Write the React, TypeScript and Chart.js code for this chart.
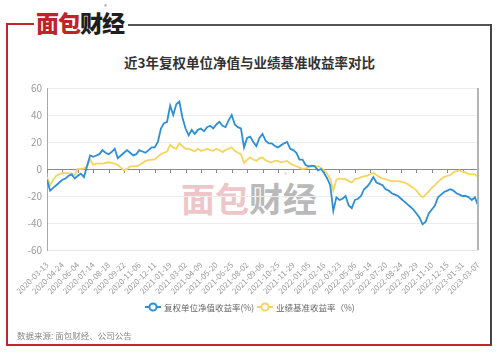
import React, { useEffect, useRef } from 'react';
import { Chart, registerables } from 'chart.js';

Chart.register(...registerables);

const tickLabels = [
  '2020-03-13', '2020-04-24', '2020-06-04', '2020-07-14', '2020-08-18', '2020-09-22',
  '2020-11-06', '2020-12-11', '2021-01-19', '2021-03-02', '2021-04-09', '2021-05-20',
  '2021-06-25', '2021-08-02', '2021-09-06', '2021-10-25', '2021-11-29', '2022-01-05',
  '2022-02-16', '2022-03-23', '2022-05-06', '2022-06-14', '2022-07-20', '2022-08-24',
  '2022-09-29', '2022-11-10', '2022-12-15', '2023-01-31', '2023-03-07',
];

const POINTS_PER_TICK = 5;

const navReturn = [
  -8, -16, -14, -12, -10, -8, -7, -5, -4, -7, -5, -3.5, -6, 2, 10, 9, 10, 11, 14, 12,
  11, 12.5, 15, 8, 10, 12, 14, 12, 10, 11, 14, 13, 12, 14, 16, 16, 20, 30, 34, 35,
  47, 40, 48, 50, 38, 30, 25, 29, 26, 29, 30, 28, 31, 32, 30, 33, 35, 32, 31, 36,
  40, 33, 31, 30, 16, 23, 24, 20, 17, 23, 26, 21, 19, 19, 17, 16, 17.5, 19, 20, 15,
  14, 12, 7, 7, 3, 2, 2.5, 2, -1, 0, -3, -7, -12, -31, -21, -23, -22, -20, -27, -29,
  -23, -22, -20, -15, -13, -10, -6, -10, -11, -12, -15, -16, -18, -19, -20, -22, -24, -26, -28, -30,
  -33, -36, -41, -39, -33, -30, -27, -21, -19, -17, -16, -15, -16, -18, -19, -20, -20, -21, -23, -21,
  -27,
];

const benchReturn = [
  -6, -12, -8, -5, -4, -3, -3, -3, -3.5, -4.5, 0, 0, 0.5, 2, 7, 3, 4, 4, 4, 4.5,
  5, 4.5, 4, 3, 1, -1, 0, 2, 2, 2, 3, 4.5, 6, 6.5, 7, 7, 9, 11, 12, 13,
  18, 16, 15, 19, 17, 15, 15, 14, 13, 15, 13.5, 14, 15, 14, 13.5, 15, 14, 12.5, 14, 15,
  16, 13.5, 12, 11, 4.5, 7, 8.5, 7, 6, 8, 8.5, 6.5, 5.5, 5, 6, 6, 5, 5.5, 6, 4,
  3, 2, 1, 0, 0.5, 1, 2, 2, 2, 1, -1, -3.5, -7.5, -16, -8, -7, -7.5, -7.5, -9, -10,
  -7.5, -7, -6, -5.5, -5, -4, -3, -4.5, -6, -7, -7.5, -8.5, -9, -9, -9, -9.5, -10, -11, -12.5, -14,
  -16, -19, -21, -19, -16.5, -14, -12, -9.5, -7.5, -6, -5, -4.5, -2.5, -1.5, -1, -2, -2.5, -4, -4, -4,
  -6,
];

const yTicks = [-60, -40, -20, 0, 20, 40, 60];

const seriesNames = ['复权单位净值收益率(%)', '业绩基准收益率（%)'];
const seriesColors = ['#2d8fd5', '#f6d55e'];

const FONT = '"Noto Sans CJK SC", "Noto Sans", sans-serif';

const zeroTicksPlugin = {
  id: 'zeroTicks',
  beforeDatasetsDraw(chart: any) {
    const { ctx, scales } = chart;
    const x = scales.x;
    const y = scales.y;
    const y0 = Math.round(y.getPixelForValue(0));
    ctx.save();
    ctx.strokeStyle = '#8a8a8a';
    ctx.lineWidth = 1;
    x.ticks.forEach((t: any) => {
      const px = Math.round(x.getPixelForValue(t.value)) + 0.5;
      ctx.beginPath();
      ctx.moveTo(px, y0);
      ctx.lineTo(px, y0 + 4);
      ctx.stroke();
    });
    ctx.restore();
  },
  afterDraw(chart: any) {
    const { ctx, chartArea } = chart;
    ctx.save();
    ctx.strokeStyle = '#b4b4b4';
    ctx.lineWidth = 2;
    ctx.beginPath();
    ctx.moveTo(chartArea.right, chartArea.top);
    ctx.lineTo(chartArea.right, chartArea.bottom);
    ctx.stroke();
    ctx.restore();
  },
};

function LegendMark({ color }: { color: string }) {
  return (
    <svg width={16} height={10} style={{ display: 'block' }}>
      <line x1={0} y1={5} x2={16} y2={5} stroke={color} strokeWidth={2} />
      <circle cx={8} cy={5} r={3.6} fill="#fff" stroke={color} strokeWidth={2} />
    </svg>
  );
}

export default function App() {
  const canvasRef = useRef<HTMLCanvasElement | null>(null);

  useEffect(() => {
    const canvas = canvasRef.current;
    if (!canvas) return;
    const labels = navReturn.map((_, i) => i);
    const maxIndex = (tickLabels.length - 1) * POINTS_PER_TICK;
    const chart = new Chart(canvas, {
      type: 'line',
      data: {
        labels,
        datasets: [
          {
            label: seriesNames[0],
            data: navReturn,
            borderColor: seriesColors[0],
            backgroundColor: seriesColors[0],
            borderWidth: 1.8,
            pointRadius: 0,
            tension: 0,
          },
          {
            label: seriesNames[1],
            data: benchReturn,
            borderColor: seriesColors[1],
            backgroundColor: seriesColors[1],
            borderWidth: 1.8,
            pointRadius: 0,
            tension: 0,
          },
        ],
      },
      options: {
        animation: false,
        responsive: false,
        devicePixelRatio: 1,
        layout: { padding: { top: 88, right: 21, left: 0, bottom: 0 } },
        plugins: {
          legend: { display: false },
          title: { display: false },
          tooltip: { enabled: false },
        },
        scales: {
          x: {
            type: 'linear',
            min: 0,
            max: maxIndex,
            grid: { display: false },
            border: { display: true, color: '#e6e6e6' },
            afterFit: (s: any) => {
              s.height = 103;
            },
            afterBuildTicks: (s: any) => {
              s.ticks = tickLabels.map((_, i) => ({ value: i * POINTS_PER_TICK }));
            },
            ticks: {
              autoSkip: false,
              minRotation: 45,
              maxRotation: 45,
              padding: 2,
              color: '#999',
              font: { size: 8, family: FONT },
              callback: (v: any) => tickLabels[Math.round(Number(v) / POINTS_PER_TICK)] ?? '',
            },
          },
          y: {
            min: yTicks[0],
            max: yTicks[yTicks.length - 1],
            afterFit: (s: any) => {
              s.width = 47;
            },
            afterBuildTicks: (s: any) => {
              s.ticks = yTicks.map((v) => ({ value: v }));
            },
            grid: {
              drawTicks: false,
              color: (ctx: any) => (ctx.tick && ctx.tick.value === 0 ? '#8a8a8a' : '#ececec'),
              lineWidth: 1,
            },
            border: { display: true, color: '#a8a8a8', width: 1 },
            ticks: {
              padding: 5,
              color: '#9a9a9a',
              font: { size: 10, family: FONT },
            },
          },
        },
      } as any,
      plugins: [zeroTicksPlugin],
    });
    return () => chart.destroy();
  }, []);

  const abs = (s: React.CSSProperties): React.CSSProperties => ({ position: 'absolute', ...s });

  return (
    <div style={abs({ left: 0, top: 0, width: 499, height: 353, background: '#fff', fontFamily: FONT, overflow: 'hidden' })}>
      {/* frame */}
      <div style={abs({ left: 6, top: 23, width: 2, height: 323, background: '#c3252d' })} />
      <div style={abs({ left: 6, top: 23, width: 28, height: 1.5, background: '#c3252d' })} />
      <div style={abs({ left: 6, top: 344, width: 486, height: 2, background: '#c3252d' })} />
      <div style={abs({ left: 128, top: 24, width: 364, height: 1.5, background: '#555' })} />
      <div style={abs({ left: 490, top: 24, width: 1.5, height: 321, background: '#444' })} />

      {/* logo */}
      <div style={abs({ left: 36, top: 10, fontSize: 23, lineHeight: '25px', fontWeight: 900, letterSpacing: -1, whiteSpace: 'nowrap' })}>
        <span style={{ color: '#c3222a' }}>面包</span>
        <span style={{ color: '#1e1e1e' }}>财经</span>
      </div>
      <div style={abs({ left: 104, top: 2, fontSize: 6, color: '#777' })}>®</div>

      {/* title */}
      <div style={abs({ left: 0, top: 52, width: 499, textAlign: 'center', fontSize: 13.5, fontWeight: 700, color: '#333', whiteSpace: 'nowrap' })}>
        近3年复权单位净值与业绩基准收益率对比
      </div>

      {/* watermark */}
      <div style={abs({ left: 181, top: 180, fontSize: 34, lineHeight: '36px', fontWeight: 700, whiteSpace: 'nowrap' })}>
        <span style={{ color: '#ecc6c8' }}>面包</span>
        <span style={{ color: '#b9b9b9' }}>财经</span>
      </div>
      <div style={abs({ left: 284, top: 170, fontSize: 6, color: '#c4c4c4' })}>®</div>

      <canvas ref={canvasRef} width={499} height={353} style={abs({ left: 0, top: 0, width: 499, height: 353 })} />

      {/* legend */}
      <div style={abs({ left: 145, top: 302 })}>
        <LegendMark color={seriesColors[0]} />
      </div>
      <div style={abs({ left: 164, top: 300, fontSize: 8.5, lineHeight: '14px', color: '#666', whiteSpace: 'nowrap' })}>
        {seriesNames[0]}
      </div>
      <div style={abs({ left: 257, top: 302 })}>
        <LegendMark color={seriesColors[1]} />
      </div>
      <div style={abs({ left: 276, top: 300, fontSize: 8.5, lineHeight: '14px', color: '#666', whiteSpace: 'nowrap' })}>
        {seriesNames[1]}
      </div>

      {/* source */}
      <div style={abs({ left: 17, top: 328, fontSize: 8.5, lineHeight: '14px', color: '#888', whiteSpace: 'nowrap' })}>
        数据来源: 面包财经、公司公告
      </div>
    </div>
  );
}
